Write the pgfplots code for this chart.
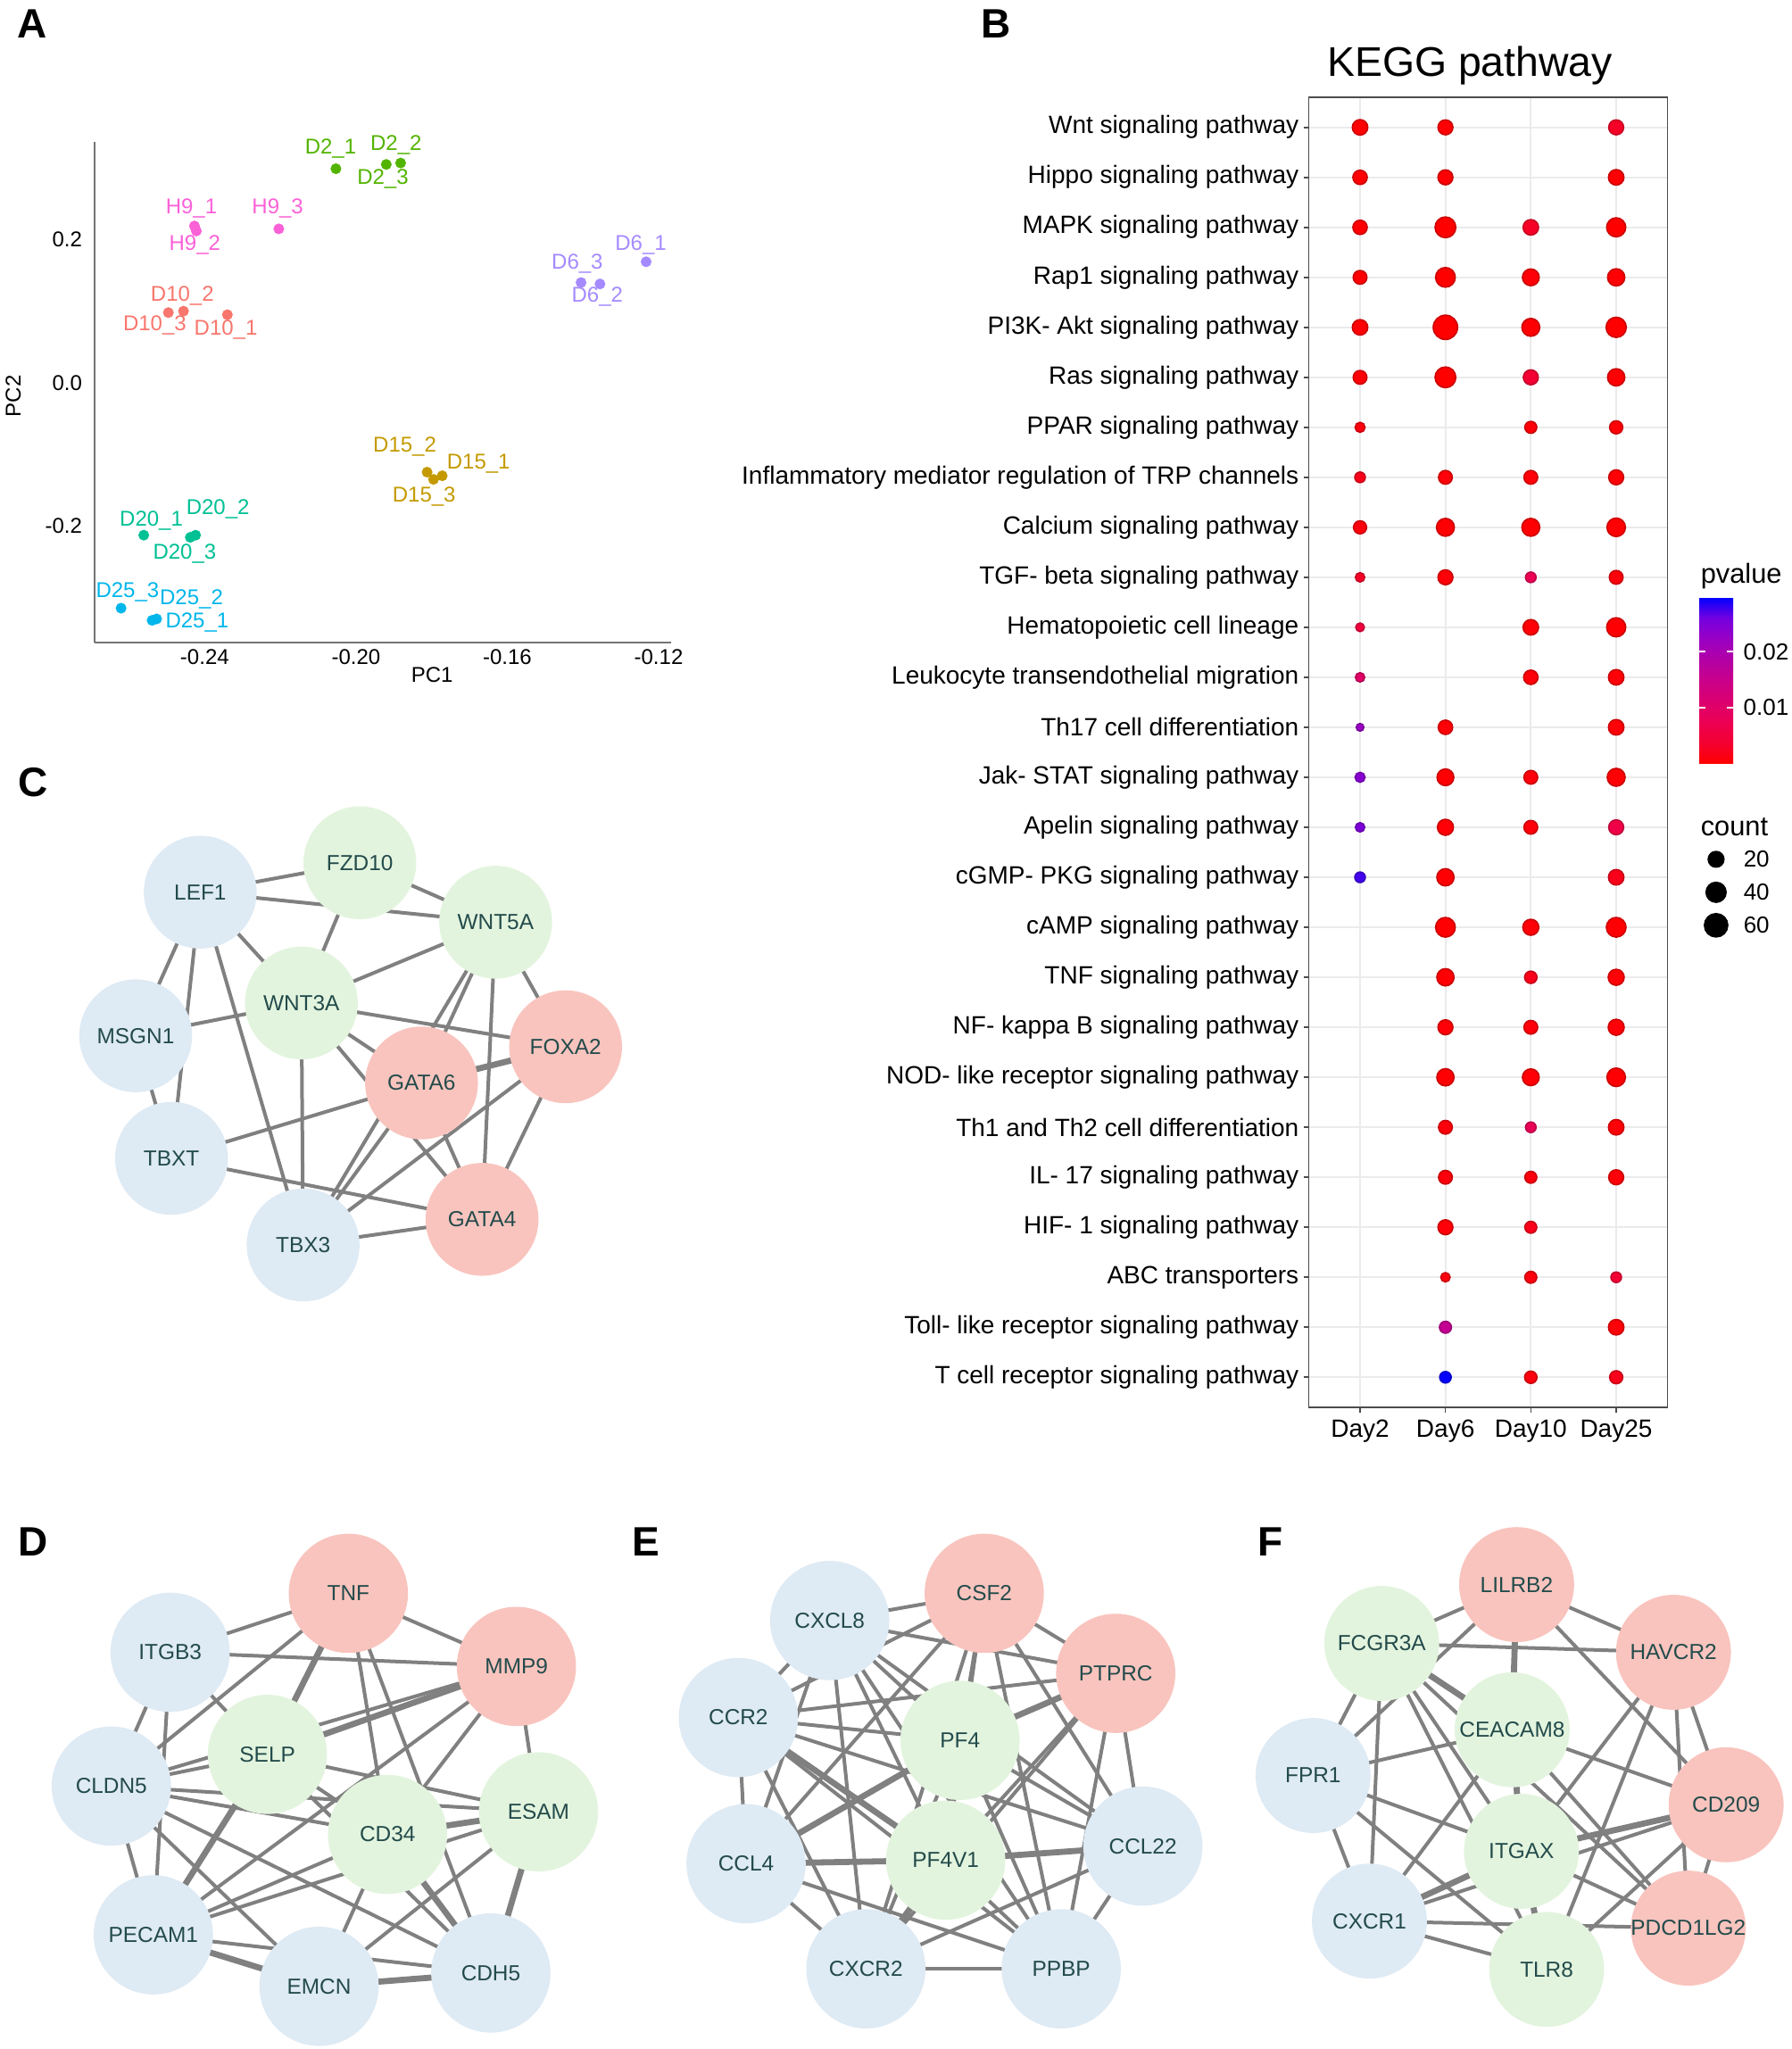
\documentclass[border=0pt]{standalone}
\usepackage{fontspec}
\setmainfont{Liberation Sans}
\usepackage{pgfplots}
\pgfplotsset{compat=1.18}
\usepackage{pgfplotstable}

\definecolor{cD10}{HTML}{F8766D}
\definecolor{cD15}{HTML}{C49A00}
\definecolor{cD2}{HTML}{53B400}
\definecolor{cD20}{HTML}{00C094}
\definecolor{cD25}{HTML}{00B6EB}
\definecolor{cD6}{HTML}{A58AFF}
\definecolor{cH9}{HTML}{FB61D7}
\definecolor{nblue}{RGB}{222,234,244}
\definecolor{ngreen}{RGB}{227,244,222}
\definecolor{npink}{RGB}{249,196,190}
\definecolor{ntext}{RGB}{35,75,75}
\definecolor{edgegray}{RGB}{128,128,128}

\pgfplotsset{
  colormap={kegg}{rgb255=(255,0,0) rgb255=(244,0,49) rgb255=(236,0,83) rgb255=(219,0,111) rgb255=(202,0,137) rgb255=(178,0,166) rgb255=(154,0,195) rgb255=(115,0,224) rgb255=(0,0,255)},
  netedge/.style={no markers, line width=1.0pt, draw=edgegray, solid},
  netedgeT/.style={no markers, line width=1.7pt, draw=edgegray, solid},
  overlay axis/.style={at={(0pt,0pt)}, anchor=south west, scale only axis,
    width=502pt, height=574pt, xmin=0, xmax=1371, ymin=0, ymax=1568,
    y dir=reverse, hide axis, clip=false},
}
\tikzset{nlab/.style={font=\fontsize{6.1}{7}\selectfont, text=ntext, inner sep=0pt}}

\newcommand\edge[2]{\edef\tmp{\noexpand\addplot[netedge] coordinates {(#1) (#2)};}\tmp}
\newcommand\edgeT[2]{\edef\tmp{\noexpand\addplot[netedgeT] coordinates {(#1) (#2)};}\tmp}
\newcommand\nodeplot[3]{\edef\tmp{\noexpand\addplot[only marks, mark=*, mark size=#1, color=#2] coordinates {#3};}\tmp}
\newcommand\lab[2]{\edef\tmp{\noexpand\node[nlab] at (axis cs:#1) {#2};}\tmp}

% node positions (in reference pixels of the 1371-wide view)
\def\cLEF{153.2,682.7}\def\cFZD{275.3,660.2}\def\cWFA{379.2,705.7}\def\cMSG{103.8,792.6}\def\cWTA{230.6,767.5}
\def\cFOX{432.7,801}\def\cGSX{322.5,828.7}\def\cTBT{131.2,886.4}\def\cGFR{368.8,933.1}\def\cTBH{231.9,952.7}

\def\dTNF{266.5,1219.3}\def\dITG{130.2,1264.4}\def\dMMP{395.1,1275.2}\def\dSEL{204.6,1342.5}\def\dCLD{85.2,1366.8}
\def\dCDT{296.5,1403.8}\def\dESA{412,1386.5}\def\dPEC{117.3,1480.6}\def\dEMC{244.1,1520}\def\dCDH{375.5,1509.8}

\def\eCSF{753,1219.3}\def\eCXL{634.8,1240.1}\def\ePTP{853.6,1280.5}\def\eCCR{564.9,1314.3}\def\ePFF{734.5,1331.8}
\def\eCCT{874.4,1412.7}\def\eCCF{570.8,1426.2}\def\ePFV{723.5,1423.5}\def\eCXR{662.5,1506.6}\def\ePPB{811.9,1506.6}

\def\fLIL{1160.3,1212.6}\def\fFCG{1057.1,1257.6}\def\fHAV{1280.3,1264.4}\def\fCEA{1156.9,1323.7}\def\fFPR{1004.6,1358.7}
\def\fCDN{1320.6,1381.1}\def\fITG{1164,1416.7}\def\fPDC{1291.7,1475.5}\def\fCXR{1047.7,1470.1}\def\fTLR{1183.3,1507.1}

\pgfplotstableread{
x y c p
1 1 19 0.0003
2 1 17 0.0003
4 1 17 0.003
1 2 15 0.0003
2 2 17 0.0003
4 2 19 0.0003
1 3 15 0.0003
2 3 44 0.0001
3 3 19 0.003
4 3 35 0.0001
1 4 13 0.0003
2 4 38 0.0001
3 4 24 0.0005
4 4 26 0.0002
1 5 19 0.0004
2 5 67 0.0001
3 5 29 0.0003
4 5 41 0.0001
1 6 13 0.0005
2 6 44 0.0001
3 6 17 0.004
4 6 26 0.0003
1 7 4 0.001
3 7 8 0.0005
4 7 11 0.0004
1 8 5 0.002
2 8 13 0.0005
3 8 13 0.0005
4 8 17 0.0004
1 9 11 0.001
2 9 29 0.0002
3 9 29 0.0002
4 9 32 0.0002
1 10 3 0.003
2 10 17 0.0005
3 10 5 0.0075
4 10 13 0.0008
1 11 2 0.005
3 11 19 0.0005
4 11 35 0.0002
1 12 3 0.0098
3 12 15 0.0006
4 12 19 0.0005
1 13 1 0.0223
2 13 15 0.0005
4 13 19 0.0005
1 14 4 0.024
2 14 24 0.0003
3 14 13 0.0008
4 14 29 0.0003
1 15 3 0.025
2 15 21 0.0004
3 15 13 0.0008
4 15 17 0.006
1 16 5 0.0276
2 16 26 0.0003
4 16 19 0.002
2 17 38 0.0002
3 17 21 0.0005
4 17 38 0.0002
2 18 26 0.0003
3 18 9 0.002
4 18 21 0.0004
2 19 17 0.0005
3 19 13 0.0008
4 19 21 0.0005
2 20 26 0.0003
3 20 24 0.0004
4 20 32 0.0002
2 21 13 0.0008
3 21 5 0.008
4 21 19 0.0005
2 22 13 0.0008
3 22 8 0.001
4 22 17 0.0005
2 23 17 0.0005
3 23 8 0.002
2 24 3 0.001
3 24 8 0.001
4 24 5 0.004
2 25 8 0.016
4 25 19 0.0005
2 26 7 0.0297
3 26 9 0.001
4 26 11 0.002
}\dataB

\begin{document}
\begin{tikzpicture}
\useasboundingbox (0pt,0pt) rectangle (502pt,574pt);

%================ overlay axis: network edges and nodes
\begin{axis}[overlay axis]
% ---- C edges
\edge{\cLEF}{\cFZD}\edge{\cLEF}{\cWFA}\edge{\cFZD}{\cWFA}\edge{\cFZD}{\cWTA}\edge{\cLEF}{\cWTA}
\edge{\cLEF}{\cMSG}\edge{\cLEF}{\cTBT}\edge{\cLEF}{\cTBH}\edge{\cMSG}{\cWTA}\edge{\cMSG}{\cTBT}
\edge{\cWTA}{\cWFA}\edge{\cWTA}{\cFOX}\edge{\cWTA}{\cGSX}\edge{\cWTA}{\cGFR}\edge{\cWTA}{\cTBH}
\edge{\cWFA}{\cGSX}\edge{\cWFA}{\cTBH}\edge{\cWFA}{\cGFR}\edge{\cWFA}{\cFOX}\edgeT{\cFOX}{\cGSX}
\edge{\cFOX}{\cTBH}\edge{\cFOX}{\cGFR}\edge{\cGSX}{\cTBT}\edge{\cGSX}{\cTBH}\edge{\cGSX}{\cGFR}
\edge{\cTBT}{\cGFR}\edge{\cTBH}{\cGFR}
% ---- D edges
\edge{\dTNF}{\dITG}\edge{\dTNF}{\dMMP}\edgeT{\dTNF}{\dSEL}\edge{\dTNF}{\dCLD}\edge{\dTNF}{\dCDT}
\edge{\dTNF}{\dCDH}\edge{\dITG}{\dMMP}\edge{\dITG}{\dCLD}\edge{\dITG}{\dSEL}\edge{\dITG}{\dPEC}
\edgeT{\dMMP}{\dSEL}\edge{\dMMP}{\dCLD}\edge{\dMMP}{\dCDT}\edge{\dMMP}{\dESA}\edge{\dMMP}{\dPEC}
\edge{\dSEL}{\dCLD}\edge{\dSEL}{\dESA}\edge{\dSEL}{\dCDT}\edgeT{\dSEL}{\dPEC}\edge{\dSEL}{\dCDH}
\edge{\dCLD}{\dCDT}\edge{\dCLD}{\dESA}\edge{\dCLD}{\dPEC}\edge{\dCLD}{\dCDH}\edge{\dCLD}{\dEMC}
\edgeT{\dCDT}{\dESA}\edge{\dCDT}{\dPEC}\edge{\dCDT}{\dEMC}\edgeT{\dCDT}{\dCDH}\edgeT{\dESA}{\dCDH}
\edge{\dESA}{\dEMC}\edge{\dESA}{\dPEC}\edgeT{\dPEC}{\dEMC}\edge{\dPEC}{\dCDH}\edgeT{\dEMC}{\dCDH}
% ---- E edges
\edge{\eCSF}{\eCXL}\edge{\eCSF}{\ePTP}\edge{\eCSF}{\eCCR}\edge{\eCSF}{\ePFF}\edge{\eCSF}{\ePFV}
\edge{\eCSF}{\eCCT}\edge{\eCSF}{\ePPB}\edge{\eCSF}{\eCXR}\edge{\eCSF}{\eCCF}
\edge{\eCXL}{\ePTP}\edge{\eCXL}{\eCCR}\edge{\eCXL}{\ePFF}\edge{\eCXL}{\ePFV}\edge{\eCXL}{\eCCT}
\edge{\eCXL}{\eCCF}\edge{\eCXL}{\eCXR}\edge{\eCXL}{\ePPB}
\edge{\ePTP}{\eCCR}\edgeT{\ePTP}{\ePFF}\edge{\ePTP}{\ePFV}\edge{\ePTP}{\eCCT}\edge{\ePTP}{\eCXR}\edge{\ePTP}{\ePPB}
\edge{\eCCR}{\ePFF}\edgeT{\eCCR}{\ePFV}\edge{\eCCR}{\eCCT}\edge{\eCCR}{\eCCF}\edge{\eCCR}{\eCXR}\edge{\eCCR}{\ePPB}
\edge{\ePFF}{\ePFV}\edgeT{\ePFF}{\eCCF}\edge{\ePFF}{\eCCT}\edge{\ePFF}{\eCXR}\edge{\ePFF}{\ePPB}
\edgeT{\eCCT}{\ePFV}\edge{\eCCT}{\eCXR}\edge{\eCCT}{\ePPB}
\edgeT{\eCCF}{\ePFV}\edge{\eCCF}{\eCXR}\edge{\eCCF}{\ePPB}
\edgeT{\ePFV}{\eCXR}\edge{\ePFV}{\ePPB}\edge{\eCXR}{\ePPB}
% ---- F edges
\edge{\fFCG}{\fLIL}\edge{\fFCG}{\fHAV}\edge{\fLIL}{\fHAV}\edgeT{\fLIL}{\fCEA}\edge{\fLIL}{\fCDN}
\edge{\fLIL}{\fFPR}\edgeT{\fFCG}{\fCEA}\edge{\fFCG}{\fFPR}\edge{\fFCG}{\fCXR}\edge{\fFCG}{\fITG}
\edge{\fFCG}{\fTLR}\edge{\fFCG}{\fPDC}\edge{\fHAV}{\fCDN}\edge{\fHAV}{\fPDC}\edge{\fHAV}{\fITG}
\edge{\fHAV}{\fTLR}\edge{\fCEA}{\fFPR}\edge{\fCEA}{\fCDN}\edgeT{\fCEA}{\fITG}\edge{\fCEA}{\fPDC}
\edge{\fCEA}{\fCXR}\edge{\fFPR}{\fCXR}\edge{\fFPR}{\fITG}\edge{\fFPR}{\fTLR}\edgeT{\fCDN}{\fITG}
\edge{\fCDN}{\fPDC}\edge{\fCDN}{\fTLR}\edge{\fCDN}{\fCXR}\edgeT{\fITG}{\fCXR}\edgeT{\fITG}{\fTLR}
\edge{\fITG}{\fPDC}\edge{\fCXR}{\fTLR}\edge{\fCXR}{\fPDC}
% ---- nodes
\nodeplot{15.6pt}{nblue}{(\cLEF) (\cMSG) (\cTBT) (\cTBH)}
\nodeplot{15.6pt}{ngreen}{(\cFZD) (\cWFA) (\cWTA)}
\nodeplot{15.6pt}{npink}{(\cFOX) (\cGSX) (\cGFR)}
\nodeplot{16.5pt}{npink}{(\dTNF) (\dMMP)}
\nodeplot{16.5pt}{ngreen}{(\dSEL) (\dCDT) (\dESA)}
\nodeplot{16.5pt}{nblue}{(\dITG) (\dCLD) (\dPEC) (\dEMC) (\dCDH)}
\nodeplot{16.5pt}{npink}{(\eCSF) (\ePTP)}
\nodeplot{16.5pt}{ngreen}{(\ePFF) (\ePFV)}
\nodeplot{16.5pt}{nblue}{(\eCXL) (\eCCR) (\eCCT) (\eCCF) (\eCXR) (\ePPB)}
\nodeplot{15.9pt}{npink}{(\fLIL) (\fHAV) (\fCDN) (\fPDC)}
\nodeplot{15.9pt}{ngreen}{(\fFCG) (\fCEA) (\fITG) (\fTLR)}
\nodeplot{15.9pt}{nblue}{(\fFPR) (\fCXR)}
\end{axis}

%================ second overlay axis: node labels and panel letters on top
\begin{axis}[overlay axis]
\lab{\cLEF}{LEF1}\lab{\cFZD}{FZD10}\lab{\cWFA}{WNT5A}\lab{\cMSG}{MSGN1}\lab{\cWTA}{WNT3A}
\lab{\cFOX}{FOXA2}\lab{\cGSX}{GATA6}\lab{\cTBT}{TBXT}\lab{\cGFR}{GATA4}\lab{\cTBH}{TBX3}
\lab{\dTNF}{TNF}\lab{\dITG}{ITGB3}\lab{\dMMP}{MMP9}\lab{\dSEL}{SELP}\lab{\dCLD}{CLDN5}
\lab{\dCDT}{CD34}\lab{\dESA}{ESAM}\lab{\dPEC}{PECAM1}\lab{\dEMC}{EMCN}\lab{\dCDH}{CDH5}
\lab{\eCSF}{CSF2}\lab{\eCXL}{CXCL8}\lab{\ePTP}{PTPRC}\lab{\eCCR}{CCR2}\lab{\ePFF}{PF4}
\lab{\eCCT}{CCL22}\lab{\eCCF}{CCL4}\lab{\ePFV}{PF4V1}\lab{\eCXR}{CXCR2}\lab{\ePPB}{PPBP}
\lab{\fLIL}{LILRB2}\lab{\fFCG}{FCGR3A}\lab{\fHAV}{HAVCR2}\lab{\fCEA}{CEACAM8}\lab{\fFPR}{FPR1}
\lab{\fCDN}{CD209}\lab{\fITG}{ITGAX}\lab{\fPDC}{PDCD1LG2}\lab{\fCXR}{CXCR1}\lab{\fTLR}{TLR8}
\node[font=\fontsize{11.5}{12}\selectfont\bfseries] at (axis cs:24.5,18) {A};
\node[font=\fontsize{11.5}{12}\selectfont\bfseries] at (axis cs:762,18) {B};
\node[font=\fontsize{11.5}{12}\selectfont\bfseries] at (axis cs:25,599) {C};
\node[font=\fontsize{11.5}{12}\selectfont\bfseries] at (axis cs:25,1180) {D};
\node[font=\fontsize{11.5}{12}\selectfont\bfseries] at (axis cs:494,1180) {E};
\node[font=\fontsize{11.5}{12}\selectfont\bfseries] at (axis cs:972,1180) {F};
\end{axis}

%================ Panel A: PCA
\begin{axis}[at={(26.5pt,394pt)}, anchor=south west, scale only axis,
  width=161.5pt, height=140.25pt,
  xmin=-0.2691, xmax=-0.1167, ymin=-0.363, ymax=0.3365,
  axis lines*=left, axis line style={black!55, line width=0.5pt},
  xtick={-0.24,-0.2,-0.16,-0.12}, xticklabels={-0.24,-0.20,-0.16,-0.12},
  ytick={-0.2,0,0.2}, yticklabels={-0.2,0.0,0.2},
  major tick length=0pt, tick style={draw=none},
  ticklabel style={font=\fontsize{6}{7}\selectfont, text=black},
  xticklabel style={yshift=1.6pt},
  clip=false]
\addplot[only marks, mark=*, mark size=1.3pt, color=cD2] coordinates {(-0.2053,0.299) (-0.1882,0.307) (-0.1920,0.305)};
\addplot[only marks, mark=*, mark size=1.3pt, color=cH9] coordinates {(-0.2427,0.219) (-0.2422,0.212) (-0.2204,0.215)};
\addplot[only marks, mark=*, mark size=1.3pt, color=cD6] coordinates {(-0.1233,0.169) (-0.1405,0.140) (-0.1355,0.138)};
\addplot[only marks, mark=*, mark size=1.3pt, color=cD10] coordinates {(-0.2456,0.100) (-0.2496,0.098) (-0.2340,0.095)};
\addplot[only marks, mark=*, mark size=1.3pt, color=cD15] coordinates {(-0.1812,-0.125) (-0.1795,-0.135) (-0.1772,-0.130)};
\addplot[only marks, mark=*, mark size=1.3pt, color=cD20] coordinates {(-0.2561,-0.213) (-0.2438,-0.216) (-0.2424,-0.213)};
\addplot[only marks, mark=*, mark size=1.3pt, color=cD25] coordinates {(-0.2621,-0.315) (-0.2527,-0.330) (-0.2539,-0.332)};
\begin{scope}[every node/.style={font=\fontsize{6}{7}\selectfont, inner sep=0pt}]
\node[text=cD2] at (axis cs:-0.2067,0.327) {D2\_1};
\node[text=cD2] at (axis cs:-0.1894,0.332) {D2\_2};
\node[text=cD2] at (axis cs:-0.1929,0.285) {D2\_3};
\node[text=cH9] at (axis cs:-0.2435,0.243) {H9\_1};
\node[text=cH9] at (axis cs:-0.2426,0.193) {H9\_2};
\node[text=cH9] at (axis cs:-0.2207,0.243) {H9\_3};
\node[text=cD6] at (axis cs:-0.1247,0.192) {D6\_1};
\node[text=cD6] at (axis cs:-0.1415,0.166) {D6\_3};
\node[text=cD6] at (axis cs:-0.1362,0.120) {D6\_2};
\node[text=cD10] at (axis cs:-0.2459,0.121) {D10\_2};
\node[text=cD10] at (axis cs:-0.2532,0.080) {D10\_3};
\node[text=cD10] at (axis cs:-0.2344,0.074) {D10\_1};
\node[text=cD15] at (axis cs:-0.1871,-0.089) {D15\_2};
\node[text=cD15] at (axis cs:-0.1676,-0.113) {D15\_1};
\node[text=cD15] at (axis cs:-0.1820,-0.159) {D15\_3};
\node[text=cD20] at (axis cs:-0.2541,-0.193) {D20\_1};
\node[text=cD20] at (axis cs:-0.2365,-0.176) {D20\_2};
\node[text=cD20] at (axis cs:-0.2453,-0.239) {D20\_3};
\node[text=cD25] at (axis cs:-0.2604,-0.293) {D25\_3};
\node[text=cD25] at (axis cs:-0.2435,-0.302) {D25\_2};
\node[text=cD25] at (axis cs:-0.2420,-0.335) {D25\_1};
\node[text=black] at (axis cs:-0.1799,-0.4080) {PC1};
\node[text=black, rotate=90] at (axis cs:-0.2906,-0.0188) {PC2};
\end{scope}
\end{axis}

%================ Panel B: KEGG dot plot
\begin{axis}[at={(366.65pt,179.78pt)}, anchor=south west, scale only axis,
  width=100.45pt, height=366.95pt,
  xmin=0.4, xmax=4.6, ymin=0.4, ymax=26.6, y dir=reverse,
  xtick={1,2,3,4}, xticklabels={Day2,Day6,Day10,Day25},
  ytick={1,...,26},
  yticklabels={Wnt signaling pathway, Hippo signaling pathway, MAPK signaling pathway, Rap1 signaling pathway, PI3K- Akt signaling pathway, Ras signaling pathway, PPAR signaling pathway, Inflammatory mediator regulation of TRP channels, Calcium signaling pathway, TGF- beta signaling pathway, Hematopoietic cell lineage, Leukocyte transendothelial migration, Th17 cell differentiation, Jak- STAT signaling pathway, Apelin signaling pathway, cGMP- PKG signaling pathway, cAMP signaling pathway, TNF signaling pathway, NF- kappa B signaling pathway, NOD- like receptor signaling pathway, Th1 and Th2 cell differentiation, IL- 17 signaling pathway, HIF- 1 signaling pathway, ABC transporters, Toll- like receptor signaling pathway, T cell receptor signaling pathway},
  tick pos=left, tick align=outside, major tick length=1.5pt,
  tick style={black!70, line width=0.4pt},
  grid=major, major grid style={black!8, line width=0.45pt},
  axis line style={black!70, line width=0.45pt},
  ticklabel style={font=\fontsize{7}{8}\selectfont, text=black},
  yticklabel style={xshift=2.2pt},
  xticklabel style={yshift=1.6pt},
  colormap name=kegg, point meta min=0, point meta max=0.0297,
  colorbar shift/.style={},
  colorbar,
  colorbar style={at={(476pt,406.75pt)}, anchor=north west,
    scale only axis, width=9.5pt, height=46.75pt,
    scaled y ticks=false,
    ytick={0.01,0.02}, yticklabels={0.01,0.02},
    yticklabel pos=right, ytick pos=both,
    tick align=inside, major tick length=1.8pt,
    tick style={white, line width=0.5pt},
    axis line style={draw=none},
    yticklabel style={font=\fontsize{6.5}{7}\selectfont, text=black, inner sep=0pt, xshift=2.7pt}},
  clip=false]
\addplot[scatter, only marks, mark=*, scatter src=explicit,
  visualization depends on={\thisrow{c} \as \cnt},
  scatter/@pre marker code/.append style={/tikz/mark size={0.75+0.325*sqrt(\cnt)}}]
  table[x=x, y=y, meta=p] {\dataB};
\addplot[only marks, mark=*, black, mark size=2.2pt] coordinates {(5.17,15.64)};
\addplot[only marks, mark=*, black, mark size=2.8pt] coordinates {(5.17,16.30)};
\addplot[only marks, mark=*, black, mark size=3.27pt] coordinates {(5.17,16.96)};
\node[anchor=west, inner sep=0pt, font=\fontsize{6.5}{7}\selectfont] at (axis cs:5.484,15.64) {20};
\node[anchor=west, inner sep=0pt, font=\fontsize{6.5}{7}\selectfont] at (axis cs:5.484,16.30) {40};
\node[anchor=west, inner sep=0pt, font=\fontsize{6.5}{7}\selectfont] at (axis cs:5.484,16.96) {60};
\node[anchor=west, inner sep=0pt, font=\fontsize{7.7}{8}\selectfont] at (axis cs:4.983,15.0) {count};
\node[anchor=west, inner sep=0pt, font=\fontsize{7.7}{8}\selectfont] at (axis cs:4.983,9.98) {pvalue};
\node[font=\fontsize{11.6}{13}\selectfont] at (axis cs:2.286,-0.244) {KEGG pathway};
\end{axis}
\end{tikzpicture}
\end{document}
